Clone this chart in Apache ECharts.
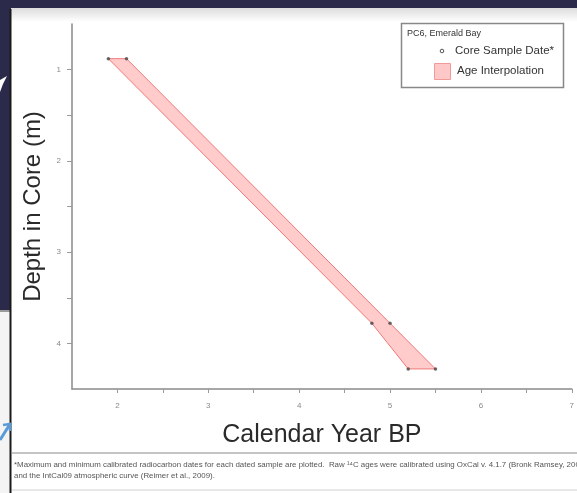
<!DOCTYPE html>
<html>
<head>
<meta charset="utf-8">
<script src="https://cdn.jsdelivr.net/npm/echarts@6/dist/echarts.min.js"></script>
<style>
html,body{margin:0;padding:0;background:#2c2a4a;}
#c{width:577px;height:493px;}
</style>
</head>
<body>
<div id="c"></div>
<script>
// Data: calibrated ages (thousand cal yr BP) at sample depths (m)
const sampleDepths = [0.88, 3.78, 4.28];
const minAges = [1.9, 4.8, 5.2];
const maxAges = [2.1, 5.0, 5.5];
const xTicks = [2, 2.5, 3, 3.5, 4, 4.5, 5, 5.5, 6, 6.5, 7];
const xLabels = [2, 3, 4, 5, 6, 7];
const yTicks = [1, 1.5, 2, 2.5, 3, 3.5, 4];
const yLabels = [1, 2, 3, 4];
const legendTitle = 'PC6, Emerald Bay';
const legendItems = ['Core Sample Date*', 'Age Interpolation'];
const footnote1 = '*Maximum and minimum calibrated radiocarbon dates for each dated sample are plotted.  Raw \u00B9\u2074C ages were calibrated using OxCal v. 4.1.7 (Bronk Ramsey, 2009)';
const footnote2 = 'and the IntCal09 atmospheric curve (Reimer et al., 2009).';

// polygon: min line down, max line back up
const polygon = [];
for (let i = 0; i < sampleDepths.length; i++) polygon.push([minAges[i], sampleDepths[i]]);
for (let i = sampleDepths.length - 1; i >= 0; i--) polygon.push([maxAges[i], sampleDepths[i]]);
const points = [];
for (let i = 0; i < sampleDepths.length; i++) {
  points.push([minAges[i], sampleDepths[i]]);
  points.push([maxAges[i], sampleDepths[i]]);
}

const font = '"Liberation Sans Narrow", "Liberation Sans", Arial, sans-serif';
const chart = echarts.init(document.getElementById('c'), null, {renderer: 'canvas'});
chart.setOption({
  backgroundColor: '#2c2a4a',
  animation: false,
  grid: {left: 72, top: 24, right: 4, bottom: 104, containLabel: false},
  xAxis: {
    type: 'value', min: 1.5, max: 7, interval: 0.5,
    splitLine: {show: false},
    axisLine: {show: true, lineStyle: {color: '#8a8a8a', width: 1.5}},
    axisTick: {show: true, length: 4, lineStyle: {color: '#9a9a9a'}, customValues: xTicks},
    axisLabel: {color: '#8a8a8a', fontSize: 8, margin: 13, fontFamily: font, customValues: xLabels},
    name: 'Calendar Year BP', nameLocation: 'middle', nameGap: 34,
    nameTextStyle: {color: '#2a2a2a', fontSize: 25, fontFamily: 'Liberation Sans, Arial, sans-serif', verticalAlign: 'top'}
  },
  yAxis: {
    type: 'value', inverse: true, min: 0.5, max: 4.5, interval: 0.5,
    splitLine: {show: false},
    axisLine: {show: true, lineStyle: {color: '#8a8a8a', width: 1.5}},
    axisTick: {show: true, length: 5, lineStyle: {color: '#9a9a9a'}, customValues: yTicks},
    axisLabel: {color: '#8a8a8a', fontSize: 8, margin: 11, fontFamily: font, customValues: yLabels},
    name: 'Depth in Core (m)', nameLocation: 'middle', nameGap: 26, nameRotate: 90,
    nameTextStyle: {color: '#2a2a2a', fontSize: 24, fontFamily: 'Liberation Sans, Arial, sans-serif'}
  },
  graphic: [
    // slide panel decorations
    {type: 'rect', z: -10, silent: true, shape: {x: 11, y: 8, width: 570, height: 490}, style: {fill: '#ffffff'}},
    {type: 'rect', z: -9, silent: true, shape: {x: 11, y: 8, width: 570, height: 14},
      style: {fill: new echarts.graphic.LinearGradient(0, 0, 0, 1, [{offset: 0, color: '#dcdcdc'}, {offset: 1, color: '#ffffff'}])}},
    {type: 'rect', z: -9, silent: true, shape: {x: 0, y: 312, width: 11, height: 181}, style: {fill: '#f4f4f4'}},
    {type: 'line', z: -8, silent: true, shape: {x1: 0, y1: 311, x2: 11, y2: 311}, style: {stroke: '#9a9a9a', lineWidth: 2}},
    {type: 'line', z: -8, silent: true, shape: {x1: 10.5, y1: 9, x2: 10.5, y2: 493}, style: {stroke: '#1a1a1a', lineWidth: 2}},
    {type: 'polygon', z: -8, silent: true, shape: {points: [[0, 80], [7, 76], [3, 84], [0, 92]]}, style: {fill: '#ffffff'}},
    {type: 'polyline', z: -8, silent: true, shape: {points: [[0, 440], [10, 424]]}, style: {stroke: '#5b9bd5', lineWidth: 3}},
    {type: 'polyline', z: -8, silent: true, shape: {points: [[3, 425], [10, 424], [10, 431]]}, style: {stroke: '#5b9bd5', lineWidth: 2.5}},
    // footnote area
    {type: 'line', z: -8, silent: true, shape: {x1: 12, y1: 453, x2: 577, y2: 453}, style: {stroke: '#b0b0b0', lineWidth: 1.5}},
    {type: 'line', z: -8, silent: true, shape: {x1: 12, y1: 490, x2: 577, y2: 490}, style: {stroke: '#d0d0d0', lineWidth: 1}},
    {type: 'text', silent: true, style: {x: 14, y: 465, text: footnote1, fill: '#555', font: '7.9px ' + font, verticalAlign: 'middle'}},
    {type: 'text', silent: true, style: {x: 14, y: 476, text: footnote2, fill: '#555', font: '7.9px ' + font, verticalAlign: 'middle'}},
    // legend box
    {type: 'rect', silent: true, shape: {x: 401.5, y: 23.5, width: 162, height: 64}, style: {fill: '#fff', stroke: '#888', lineWidth: 1.5}},
    {type: 'text', silent: true, style: {x: 407, y: 34, text: legendTitle, fill: '#333', font: '9px ' + font, verticalAlign: 'middle'}},
    {type: 'circle', silent: true, shape: {cx: 442, cy: 51, r: 1.8}, style: {fill: '#fff', stroke: '#555', lineWidth: 1}},
    {type: 'text', silent: true, style: {x: 455, y: 51, text: legendItems[0], fill: '#333', font: '11.5px ' + font, verticalAlign: 'middle'}},
    {type: 'rect', silent: true, shape: {x: 434.5, y: 63.5, width: 16, height: 16}, style: {fill: '#ffc8c8', stroke: '#f29a9a', lineWidth: 1}},
    {type: 'text', silent: true, style: {x: 457, y: 71, text: legendItems[1], fill: '#333', font: '11.5px ' + font, verticalAlign: 'middle'}}
  ],
  series: [
    {
      type: 'custom',
      coordinateSystem: 'cartesian2d',
      data: [0],
      renderItem: function (params, api) {
        const pts = polygon.map(function (p) { return api.coord(p); });
        return {type: 'polygon', shape: {points: pts}, style: {fill: 'rgba(255,160,160,0.55)', stroke: '#f07878', lineWidth: 1}};
      },
      silent: true, z: 2
    },
    {
      type: 'scatter', data: points, symbol: 'circle', symbolSize: 3.5,
      itemStyle: {color: '#444'}, silent: true, z: 3
    }
  ]
});
</script>
</body>
</html>
